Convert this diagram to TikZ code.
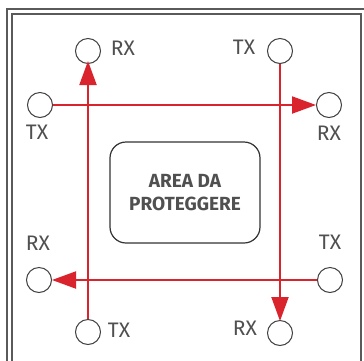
\documentclass[tikz,border=0pt]{standalone}
\usepackage{fontspec}
\setmainfont{Fira Sans}
\usetikzlibrary{arrows.meta}
\definecolor{myred}{HTML}{D9232D}
\definecolor{txtgray}{HTML}{505050}
\definecolor{framegray}{HTML}{5A5A5A}
\tikzset{
  dev/.style={circle,draw=black!75,line width=1pt,fill=white,minimum size=25pt,inner sep=0pt},
  lbl/.style={text=txtgray,font=\fontsize{21}{21}\selectfont,inner sep=0pt},
  beam/.style={draw=myred,line width=2pt,-{Triangle[length=24pt,width=17pt]}},
  frame/.style={draw=framegray,line width=1.2pt},
  area/.style={draw=black!80,line width=1.2pt,rounded corners=16pt,minimum width=150pt,minimum height=101pt,inner sep=0pt,align=center,text=txtgray,font=\bfseries\fontsize{19}{23}\selectfont}
}
\begin{document}
\begin{tikzpicture}[x=1pt,y=-1pt]
\useasboundingbox (0,0) rectangle (364,360);
\fill[white] (0,0) rectangle (364,360);
% frame
\draw[frame] (7,370) -- (7,9) -- (370,9);
\draw[frame] (12,370) -- (12,14) -- (361,14) -- (361,370);
% central area
\node[area] (area) at (185,192.5) {AREA DA\\PROTEGGERE};
% devices
\node[dev] (rxtl) at (88,51) {};
\node[dev] (txtr) at (280,51) {};
\node[dev] (txl) at (40,105) {};
\node[dev] (rxr) at (329,105) {};
\node[dev] (rxl) at (39,280) {};
\node[dev] (txr) at (330,280) {};
\node[dev] (txb) at (88,332) {};
\node[dev] (rxb) at (280,333) {};
% labels
\node[lbl] (l1) at (123,48) {RX};
\node[lbl] (l2) at (244,47) {TX};
\node[lbl] (l3) at (37,132) {TX};
\node[lbl] (l4) at (329,133) {RX};
\node[lbl] (l5) at (38,243) {RX};
\node[lbl] (l6) at (330,242) {TX};
\node[lbl] (l7) at (119,330) {TX};
\node[lbl] (l8) at (245,328) {RX};
% beams
\draw[beam] (txl.east) -- (rxr.west);
\draw[beam] (txr.west) -- (rxl.east);
\draw[beam] (txb.north) -- ([yshift=3pt]rxtl.south);
\draw[beam] (txtr.south) -- ([yshift=-1pt]rxb.north);
\end{tikzpicture}
\end{document}
